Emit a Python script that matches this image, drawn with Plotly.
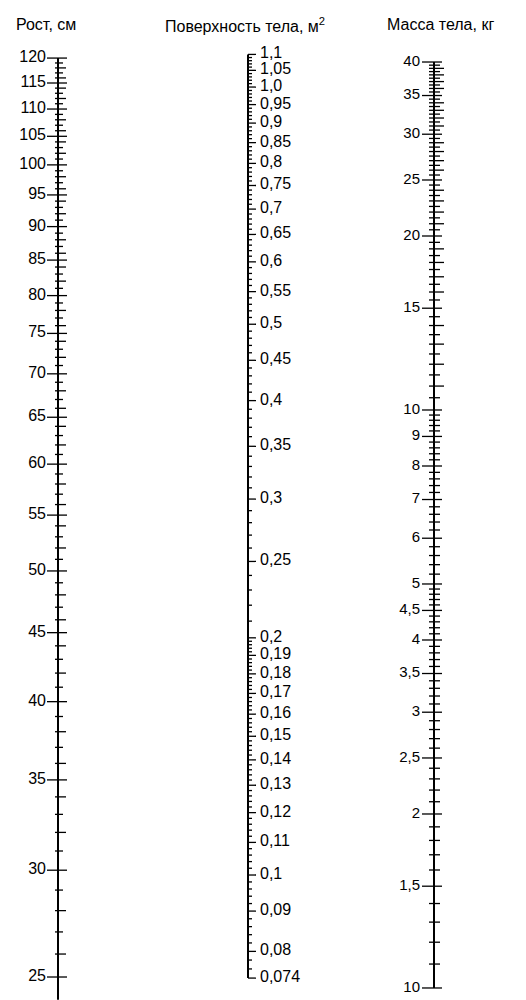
import numpy as np
import plotly.graph_objects as go

# --- data: scale graduations ---
height_labels = [120, 115, 110, 105, 100, 95, 90, 85, 80, 75, 70, 65, 60,
                 55, 50, 45, 40, 35, 30, 25]
height_ticks = list(range(25, 121))  # every 1 cm

bsa_labels = [1.1, 1.05, 1.0, 0.95, 0.9, 0.85, 0.8, 0.75, 0.7, 0.65, 0.6,
              0.55, 0.5, 0.45, 0.4, 0.35, 0.3, 0.25, 0.2, 0.19, 0.18, 0.17,
              0.16, 0.15, 0.14, 0.13, 0.12, 0.11, 0.1, 0.09, 0.08, 0.074]
bsa_text = ["1,1", "1,05", "1,0", "0,95", "0,9", "0,85", "0,8", "0,75", "0,7",
            "0,65", "0,6", "0,55", "0,5", "0,45", "0,4", "0,35", "0,3", "0,25",
            "0,2", "0,19", "0,18", "0,17", "0,16", "0,15", "0,14", "0,13",
            "0,12", "0,11", "0,1", "0,09", "0,08", "0,074"]
bsa_ticks = sorted(set(
    [round(v, 3) for v in np.arange(0.074, 0.2, 0.002)] +
    [round(v, 2) for v in np.arange(0.2, 1.101, 0.01)]))

mass_labels = [40, 35, 30, 25, 20, 15, 10, 9, 8, 7, 6, 5, 4.5, 4, 3.5, 3,
               2.5, 2, 1.5, 1]
mass_text = ["40", "35", "30", "25", "20", "15", "10", "9", "8", "7", "6",
             "5", "4,5", "4", "3,5", "3", "2,5", "2", "1,5", "10"]
mass_ticks = sorted(set(
    [round(v, 1) for v in np.arange(1.0, 5.0, 0.1)] +
    [round(v, 1) for v in np.arange(5.0, 10.0, 0.2)] +
    [round(v, 1) for v in np.arange(10.0, 40.01, 0.5)]))

# --- layout constants ---
# the page body has an 8 px margin, so the figure is 518x992 and the x axis
# runs in page pixels from 8 to 526
PAD = 8
W, H = 526 - PAD, 1000 - PAD
X_H, X_B, X_M = 58, 248, 434
FONT = "Liberation Sans, Arial, sans-serif"


def is_in(v, arr):
    return any(abs(v - a) < 1e-6 for a in arr)


def segs(vals, ends):
    xs, ys = [], []
    for v in vals:
        a, b = ends(v)
        xs += [a, b, None]
        ys += [v, v, None]
    return xs, ys


def h_ends(v):
    if v % 5 == 0:
        return X_H - 11, X_H + 9
    return X_H - 3, X_H + (8 if v % 2 == 0 else 5)


def b_ends(v):
    if is_in(v, bsa_labels):
        return X_B, X_B + 8
    if v < 0.2 and abs(v * 100 - round(v * 100)) < 1e-6:
        return X_B, X_B + 6
    return X_B, X_B + 4


def m_ends(v):
    if is_in(v, mass_labels):
        return X_M - 12, X_M + 8
    if abs(v - round(v)) < 1e-6:
        return X_M - 5, X_M + 10
    return X_M - 5, X_M + 6


fig = go.Figure()
line = dict(color="black", width=1.3)

# axis spines
fig.add_trace(go.Scatter(x=[X_H, X_H], y=[24.05, 120], mode="lines",
                         line=dict(color="black", width=2), yaxis="y"))
fig.add_trace(go.Scatter(x=[X_B, X_B], y=[0.074, 1.1], mode="lines",
                         line=dict(color="black", width=2), yaxis="y2"))
fig.add_trace(go.Scatter(x=[X_M, X_M], y=[1.0, 40], mode="lines",
                         line=dict(color="black", width=2), yaxis="y3"))

# ticks
xs, ys = segs(height_ticks, h_ends)
fig.add_trace(go.Scatter(x=xs, y=ys, mode="lines", line=line, yaxis="y"))
xs, ys = segs(bsa_ticks, b_ends)
fig.add_trace(go.Scatter(x=xs, y=ys, mode="lines", line=line, yaxis="y2"))
xs, ys = segs(mass_ticks, m_ends)
fig.add_trace(go.Scatter(x=xs, y=ys, mode="lines", line=line, yaxis="y3"))

# labels
fig.add_trace(go.Scatter(x=[X_H - 12] * len(height_labels), y=height_labels,
                         mode="text", text=[str(v) for v in height_labels],
                         textposition="middle left",
                         textfont=dict(family=FONT, size=16, color="black"),
                         yaxis="y"))
fig.add_trace(go.Scatter(x=[X_B + 12] * len(bsa_labels), y=bsa_labels,
                         mode="text", text=bsa_text,
                         textposition="middle right",
                         textfont=dict(family=FONT, size=16, color="black"),
                         yaxis="y2"))
fig.add_trace(go.Scatter(x=[X_M - 14] * len(mass_labels), y=mass_labels,
                         mode="text", text=mass_text,
                         textposition="middle left",
                         textfont=dict(family=FONT, size=15, color="black"),
                         yaxis="y3"))

titles = [("Рост, см", 46), ("Поверхность тела, м<sup>2</sup>", 245),
          ("Масса тела, кг", 440)]
for t, x in titles:
    fig.add_annotation(text=t, x=(x - PAD) / W, y=1 - (25 - PAD) / H,
                       xref="paper", yref="paper", showarrow=False,
                       xanchor="center", yanchor="middle",
                       font=dict(family=FONT, size=16, color="black"))

hidden = dict(visible=False, fixedrange=True)
fig.update_layout(
    width=W, height=H,
    margin=dict(l=0, r=0, t=0, b=0),
    paper_bgcolor="white", plot_bgcolor="white",
    showlegend=False,
    xaxis=dict(range=[PAD, 526], **hidden),
    yaxis=dict(type="log", range=[1.3809, 2.1163], **hidden),
    yaxis2=dict(type="log", range=[-1.1586, 0.1003], overlaying="y", **hidden),
    yaxis3=dict(type="log", range=[-0.0208, 1.6955], overlaying="y", **hidden),
)

fig.write_html("out.html")
